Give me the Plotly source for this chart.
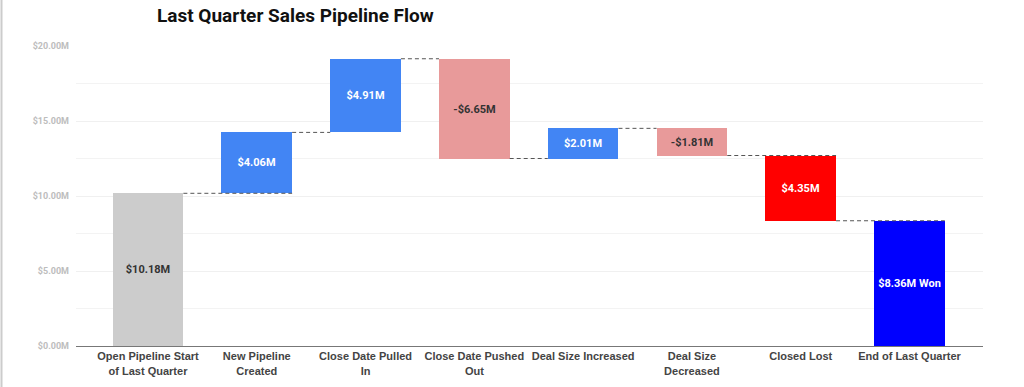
import plotly.graph_objects as go

categories = ["Open Pipeline Start<br>of Last Quarter", "New Pipeline<br>Created",
              "Close Date Pulled<br>In", "Close Date Pushed<br>Out", "Deal Size Increased",
              "Deal Size<br>Decreased", "Closed Lost", "End of Last Quarter"]
changes = [10.18, 4.06, 4.91, -6.65, 2.01, -1.81, -4.35, 8.36]
kinds = ["total", "rel", "rel", "rel", "rel", "rel", "rel", "total"]
labels = ["$10.18M", "$4.06M", "$4.91M", "-$6.65M", "$2.01M", "-$1.81M", "$4.35M", "$8.36M Won"]
colors = ["#cccccc", "#4285f4", "#4285f4", "#e89a9a", "#4285f4", "#e89a9a", "#ff0000", "#0000ff"]
label_colors = ["#333333", "#ffffff", "#ffffff", "#333333", "#ffffff", "#333333", "#ffffff", "#ffffff"]
connector_across = [True, False, False, False, False, True, True]
y_ticks = [0, 5, 10, 15, 20]
y_tick_labels = ["$%.2fM" % v for v in y_ticks]

BW = 0.65
x = list(range(len(categories)))
bases, heights, levels = [], [], []
run = 0.0
for k, v in zip(kinds, changes):
    if k == "total":
        bases.append(0.0)
        heights.append(v)
        run = v
    else:
        lo = run if v >= 0 else run + v
        bases.append(lo)
        heights.append(abs(v))
        run = run + v
    levels.append(run)

fig = go.Figure()
fig.add_trace(go.Bar(
    x=x, y=heights, base=bases, width=BW,
    marker=dict(color=colors, line=dict(width=0)),
    text=labels, textposition="inside", insidetextanchor="middle",
    textangle=0, constraintext="none",
    textfont=dict(family="Roboto", size=11, color=label_colors, weight="bold"),
    hoverinfo="skip", showlegend=False,
))

for i in range(len(x) - 1):
    x0 = x[i] + BW / 2
    x1 = x[i + 1] + (BW / 2 if connector_across[i] else -BW / 2)
    lvl = levels[i]
    fig.add_trace(go.Scatter(
        x=[x0, x1], y=[lvl, lvl], mode="lines",
        line=dict(color="#555555", width=1, dash="4px,3px"),
        hoverinfo="skip", showlegend=False,
    ))

fig.add_shape(type="line", xref="paper", yref="paper",
              x0=(1.5 - 76) / 907, x1=(1.5 - 76) / 907, y0=-41 / 300, y1=1 + 46 / 300,
              line=dict(color="#cccccc", width=2))

fig.update_layout(
    width=1024, height=387,
    margin=dict(l=76, r=41, t=46, b=41, autoexpand=False),
    paper_bgcolor="white", plot_bgcolor="white",
    title=dict(text="<b>Last Quarter Sales Pipeline Flow</b>", xref="container", yref="container",
               x=157 / 1024, xanchor="left", y=1 - 15 / 387, yanchor="middle",
               font=dict(family="Roboto", size=19, color="#111111")),
    xaxis=dict(
        range=[-0.662, 7.676], tickvals=x, ticktext=categories, automargin=False,
        showgrid=False, zeroline=False, showline=True, linecolor="#777777", linewidth=1,
        ticks="", tickfont=dict(family="Liberation Sans", size=11, color="#444444", weight="bold"),
    ),
    yaxis=dict(
        range=[0, 20], tickvals=y_ticks, ticktext=y_tick_labels, automargin=False,
        showgrid=True, gridcolor="#f0f0f0", gridwidth=1, zeroline=False, showline=False,
        minor=dict(tickvals=[2.5, 7.5, 12.5, 17.5], showgrid=True, gridcolor="#f3f3f3", gridwidth=1),
        ticks="", ticklabelstandoff=6,
        tickfont=dict(family="Roboto", size=9, color="#bdbdbd", weight="bold"),
    ),
    bargap=0,
)

fig.write_html("out.html", config={"displayModeBar": False},
               post_script="document.body.style.margin='0';document.body.style.overflow='hidden';")
